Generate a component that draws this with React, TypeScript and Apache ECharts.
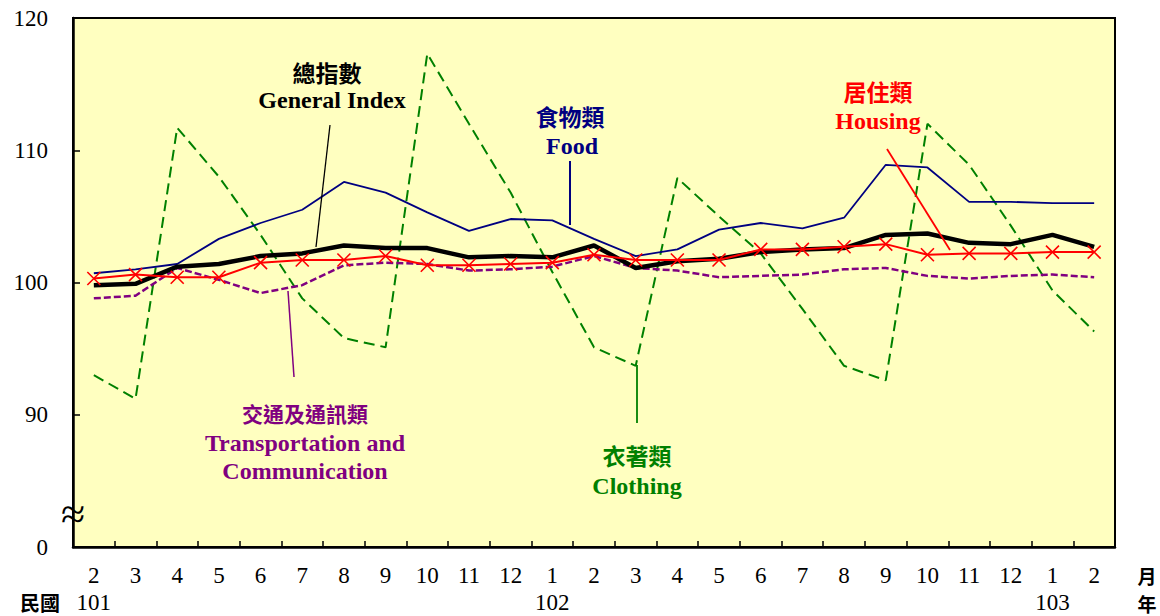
import React, { useEffect, useRef } from "react";
import * as echarts from "echarts";

const months = ["2","3","4","5","6","7","8","9","10","11","12","1","2","3","4","5","6","7","8","9","10","11","12","1","2"];
const years = ["101","","","","","","","","","","","102","","","","","","","","","","","","103",""];

const generalIndex = [99.8, 99.9, 101.2, 101.4, 102.0, 102.2, 102.8, 102.6, 102.6, 101.9, 102.0, 101.9, 102.8, 101.1, 101.6, 101.8, 102.3, 102.5, 102.6, 103.6, 103.7, 103.0, 102.9, 103.6, 102.7];
const food = [100.7, 101.0, 101.4, 103.3, 104.5, 105.5, 107.6, 106.8, 105.3, 103.9, 104.8, 104.7, 103.3, 102.0, 102.5, 104.0, 104.5, 104.1, 104.9, 108.9, 108.7, 106.1, 106.1, 106.0, 106.0];
const housing = [100.3, 100.6, 100.4, 100.4, 101.5, 101.7, 101.7, 102.0, 101.3, 101.3, 101.4, 101.5, 102.1, 101.7, 101.7, 101.7, 102.5, 102.5, 102.7, 102.9, 102.1, 102.2, 102.2, 102.3, 102.3];
const transport = [98.8, 99.0, 101.1, 100.2, 99.2, 99.8, 101.3, 101.5, 101.4, 100.9, 101.0, 101.2, 102.0, 101.1, 100.9, 100.4, 100.5, 100.6, 101.0, 101.1, 100.5, 100.3, 100.5, 100.6, 100.4];
const clothing = [93.0, 91.2, 111.7, 108.0, 103.6, 98.8, 95.8, 95.1, 117.3, 112.0, 106.8, 100.8, 95.1, 93.7, 107.9, 105.0, 102.2, 98.0, 93.7, 92.6, 112.0, 108.9, 104.3, 99.4, 96.3];

const SERIF = "'Liberation Serif', 'Times New Roman', serif";
const CJK = "'Noto Sans CJK TC', 'Noto Sans CJK SC', sans-serif";

function label(x: number, y: number, text: string, color: string, cjk: boolean, size = 24, bold = true) {
  return {
    type: "text",
    x,
    y,
    z: 100,
    style: {
      text,
      fill: color,
      font: `${bold ? "bold " : ""}${size}px ${cjk ? CJK : SERIF}`,
      textAlign: "center",
      textVerticalAlign: "middle",
    },
  };
}

function leader(x1: number, y1: number, x2: number, y2: number, color: string, w = 1.5) {
  return {
    type: "line",
    z: 100,
    shape: { x1, y1, x2, y2 },
    style: { stroke: color, lineWidth: w },
  };
}

export default function App() {
  const ref = useRef<HTMLDivElement>(null);
  useEffect(() => {
    if (!ref.current) return;
    const chart = echarts.init(ref.current, undefined, { renderer: "svg" });
    const option: any = {
      animation: false,
      backgroundColor: "#ffffff",
      grid: {
        left: 73,
        top: 18,
        right: 45,
        bottom: 69,
        show: true,
        backgroundColor: "#FFFFC0",
        borderColor: "#000000",
        borderWidth: 2,
      },
      xAxis: [
        {
          type: "category",
          data: months,
          position: "bottom",
          boundaryGap: true,
          axisLine: { show: true, lineStyle: { color: "#000", width: 2.5 } },
          axisTick: { show: true, inside: true, length: 6, interval: 0, lineStyle: { color: "#000", width: 1.5 } },
          axisLabel: { interval: 0, margin: 17, color: "#000", fontFamily: SERIF, fontSize: 23 },
          splitLine: { show: false },
        },
        {
          type: "category",
          data: years,
          position: "bottom",
          boundaryGap: true,
          axisLine: { show: false },
          axisTick: { show: false },
          axisLabel: { interval: 0, margin: 44, color: "#000", fontFamily: SERIF, fontSize: 23 },
          splitLine: { show: false },
        },
      ],
      yAxis: {
        type: "value",
        min: 80,
        max: 120,
        interval: 10,
        axisLine: { show: true, lineStyle: { color: "#000", width: 2.5 } },
        axisTick: { show: true, inside: true, length: 7, lineStyle: { color: "#000", width: 1.5 } },
        axisLabel: {
          margin: 25,
          color: "#000",
          fontFamily: SERIF,
          fontSize: 23,
          formatter: (v: number) => (v === 80 ? "0" : String(v)),
        },
        splitLine: { show: false },
      },
      series: [
        {
          name: "衣著類 Clothing",
          type: "line",
          data: clothing,
          symbol: "none",
          lineStyle: { color: "#008000", width: 2, type: [11, 6] },
          z: 2,
        },
        {
          name: "交通及通訊類 Transportation and Communication",
          type: "line",
          data: transport,
          symbol: "none",
          lineStyle: { color: "#800080", width: 2.5, type: [7, 3] },
          z: 3,
        },
        {
          name: "食物類 Food",
          type: "line",
          data: food,
          symbol: "none",
          lineStyle: { color: "#000080", width: 1.8 },
          z: 4,
        },
        {
          name: "總指數 General Index",
          type: "line",
          data: generalIndex,
          symbol: "none",
          lineStyle: { color: "#000000", width: 4.5 },
          z: 5,
        },
        {
          name: "居住類 Housing",
          type: "line",
          data: housing,
          symbol: "path://M0,0L10,10M0,10L10,0",
          symbolSize: 13,
          showAllSymbol: true,
          itemStyle: { color: "transparent", borderColor: "#FF0000", borderWidth: 1.6 },
          lineStyle: { color: "#FF0000", width: 2 },
          z: 6,
        },
      ],
      graphic: [
        label(327, 72, "總指數", "#000000", true, 23),
        label(332, 100, "General Index", "#000000", false, 24),
        leader(330, 125, 316, 247, "#000000", 1.3),

        label(570, 116, "食物類", "#000080", true, 23),
        label(572, 146, "Food", "#000080", false, 24),
        leader(570, 161, 570, 225, "#000080", 2),

        label(878, 91, "居住類", "#FF0000", true, 23),
        label(878, 121, "Housing", "#FF0000", false, 24),
        leader(887, 149, 950, 250, "#FF0000", 1.8),

        label(305, 413, "交通及通訊類", "#800080", true, 21),
        label(305, 443, "Transportation and", "#800080", false, 24),
        label(305, 471, "Communication", "#800080", false, 24),
        leader(288, 291, 294, 377, "#800080", 1.5),

        label(637, 455, "衣著類", "#008000", true, 23),
        label(637, 486, "Clothing", "#008000", false, 24),
        leader(637, 365, 637, 423, "#008000", 1.8),

        label(73, 514, "≈", "#000000", false, 44, false),
        label(40, 602, "民國", "#000000", true, 20),
        label(1147, 575, "月", "#000000", true, 19),
        label(1147, 603, "年", "#000000", true, 19),
      ],
    };
    chart.setOption(option);
    return () => chart.dispose();
  }, []);
  return (
    <div
      ref={ref}
      style={{ position: "fixed", left: 0, top: 0, width: 1160, height: 616 }}
    />
  );
}
